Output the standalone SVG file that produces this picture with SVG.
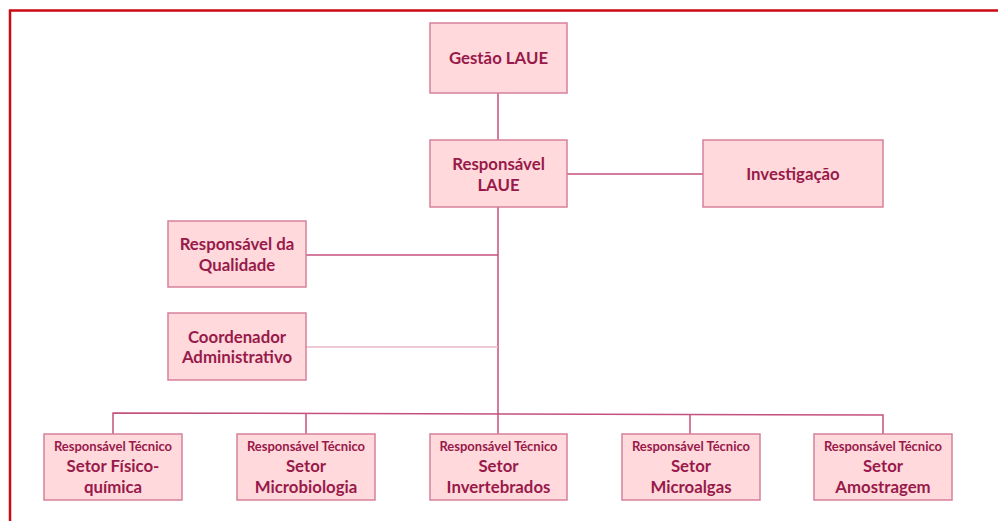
<svg xmlns="http://www.w3.org/2000/svg" width="998" height="521" viewBox="0 0 998 521">
<style>
.box{fill:#ffd9dc;stroke:#d6809a;stroke-width:1.5}
.t{font-family:Lato,"Open Sans",sans-serif;font-weight:bold;fill:#981a4a;text-anchor:middle;font-size:16.8px}
.s{font-size:13px}
.ln{stroke:#c4517d;stroke-width:1.5;fill:none}
.lt{stroke:#ebb7c8;stroke-width:1.5;fill:none}
</style>
<rect width="998" height="521" fill="#ffffff"/>
<path d="M10 521 V10.5 H998" fill="none" stroke="#cc0a12" stroke-width="2.5"/>
<g id="connectors">
<path class="ln" d="M498 93 V140"/>
<path class="ln" d="M498 207 V414"/>
<path class="ln" d="M567 174 H703"/>
<path class="ln" d="M306 255 H498"/>
<path class="lt" d="M306 347 H498"/>
<path class="ln" d="M113 434 V413 L883 415 V434"/>
<path class="ln" d="M306 414 V434"/>
<path class="ln" d="M498 414 V434"/>
<path class="ln" d="M690 414 V434"/>
</g>
<g id="gestao"><rect class="box" x="430" y="23" width="137" height="70"/><text class="t" x="498.5" y="64">Gestão LAUE</text></g>
<g id="responsavel"><rect class="box" x="430" y="140" width="137" height="67"/><text class="t" x="498.5" y="170">Responsável</text><text class="t" x="498.5" y="191">LAUE</text></g>
<g id="investigacao"><rect class="box" x="703" y="140" width="180" height="67"/><text class="t" x="793" y="180">Investigação</text></g>
<g id="qualidade"><rect class="box" x="168" y="221" width="138" height="66"/><text class="t" x="237" y="250">Responsável da</text><text class="t" x="237" y="271">Qualidade</text></g>
<g id="coordenador"><rect class="box" x="168" y="313" width="138" height="67"/><text class="t" x="237" y="343">Coordenador</text><text class="t" x="237" y="363">Administrativo</text></g>
<g id="fisico"><rect class="box" x="44" y="434" width="138" height="66"/><text class="t s" x="113" y="451">Responsável Técnico</text><text class="t" x="113" y="472">Setor Físico-</text><text class="t" x="113" y="493">química</text></g>
<g id="micro"><rect class="box" x="237" y="434" width="138" height="66"/><text class="t s" x="306" y="451">Responsável Técnico</text><text class="t" x="306" y="472">Setor</text><text class="t" x="306" y="493">Microbiologia</text></g>
<g id="invert"><rect class="box" x="430" y="434" width="137" height="66"/><text class="t s" x="498.5" y="451">Responsável Técnico</text><text class="t" x="498.5" y="472">Setor</text><text class="t" x="498.5" y="493">Invertebrados</text></g>
<g id="microalgas"><rect class="box" x="622" y="434" width="138" height="66"/><text class="t s" x="691" y="451">Responsável Técnico</text><text class="t" x="691" y="472">Setor</text><text class="t" x="691" y="493">Microalgas</text></g>
<g id="amostragem"><rect class="box" x="814" y="434" width="138" height="66"/><text class="t s" x="883" y="451">Responsável Técnico</text><text class="t" x="883" y="472">Setor</text><text class="t" x="883" y="493">Amostragem</text></g>
</svg>
